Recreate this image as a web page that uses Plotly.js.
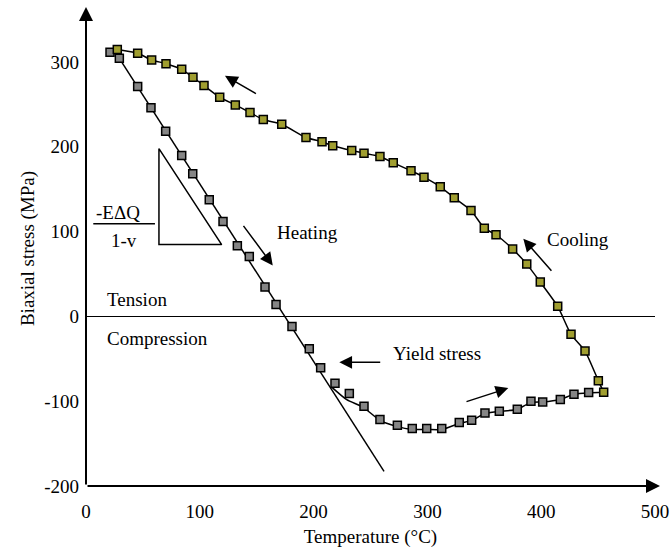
<!DOCTYPE html>
<html>
<head>
<meta charset="utf-8">
<script src="https://cdn.plot.ly/plotly-3.0.1.min.js"></script>
<style>html,body{margin:0;padding:0;background:#fff;}#chart{width:670px;height:550px;}</style>
</head>
<body>
<div id="chart"></div>
<script>
// Heating (grey squares)
const heatT = [21.1,29.3,45.4,57.1,70.0,84.1,93.8,108.3,120.4,133.0,143.5,157.3,167.0,181.0,196.2,206.2,218.8,231.4,244.3,258.3,273.6,286.7,299.4,312.6,328.0,338.9,350.6,363.2,379.0,391.0,401.3,416.8,428.8,441.7];
const heatS = [311.3,304.2,270.9,245.8,218.3,189.6,168.1,137.5,111.9,83.3,70.7,34.5,14.1,-12.1,-38.1,-60.5,-78.9,-91.0,-106.0,-121.7,-128.4,-132.3,-132.3,-132.3,-125.2,-122.5,-113.9,-111.9,-109.5,-100.1,-100.9,-98.1,-91.9,-89.9];
// Cooling (olive squares)
const coolT = [454.9,450.2,438.5,426.2,414.5,399.2,387.3,374.9,360.3,350.0,338.3,323.6,311.3,297.0,285.6,270.0,258.3,244.3,233.5,216.8,207.4,193.3,172.0,155.8,144.1,131.2,117.5,103.7,94.0,84.1,70.3,57.7,45.4,27.5];
const coolS = [-89.6,-75.8,-40.9,-21.2,11.8,40.4,61.6,79.3,96.2,104.0,124.8,139.8,152.7,164.1,171.6,181.0,188.4,192.4,195.5,201.1,205.8,210.8,226.5,232.0,240.3,249.3,258.3,272.1,281.8,291.2,297.9,302.3,310.1,314.5];
// Elastic (thermo-elastic slope) line and plastic heating curve
const elasticT = [29.3,261.9];
const elasticS = [304.2,-182.8];
const plasticT = [215.9,229.1,243.4,258.3,273.0,286.5,299.6,312.8,327.8,339.2,350.6,362.9,378.7,391.0,401.6,416.5,428.8,442.0,454.9];
const plasticS = [-83.4,-98.2,-107.0,-122.6,-129.7,-133.3,-133.3,-133.3,-126.2,-122.6,-114.4,-112.0,-109.7,-101.4,-100.8,-97.9,-92.0,-90.2,-89.6];
// Slope triangle
const triT = [64.1,64.1,119.2,64.1];
const triS = [197.8,84.6,84.6,197.8];
const fracT = [6.4,60.6];
const fracS = [109.3,109.3];
const xTicks = [0,100,200,300,400,500];
const yTicks = [-200,-100,0,100,200,300];

const FONT = 'Liberation Serif';
const FS = 19;
const olive = '#a09e30';
const grey = '#858585';

const traces = [
  {x: elasticT, y: elasticS, mode:'lines', line:{color:'#000', width:1.5}, hoverinfo:'skip'},
  {x: plasticT, y: plasticS, mode:'lines', line:{color:'#000', width:1.5, shape:'spline', smoothing:0.6}, hoverinfo:'skip'},
  {x: coolT, y: coolS, mode:'lines', line:{color:'#000', width:1.5, shape:'spline', smoothing:0.6}, hoverinfo:'skip'},
  {x: triT, y: triS, mode:'lines', line:{color:'#000', width:1.5}, hoverinfo:'skip'},
  {x: fracT, y: fracS, mode:'lines', line:{color:'#000', width:1.5}, hoverinfo:'skip'},
  {x: heatT, y: heatS, mode:'markers', marker:{symbol:'square', size:8, color:grey, line:{color:'#000', width:1.5}}},
  {x: coolT, y: coolS, mode:'markers', marker:{symbol:'square', size:8, color:olive, line:{color:'#000', width:1.5}}}
];

function arrow(x, y, ax, ay){
  return {x:x, y:y, xref:'x', yref:'y', ax:ax, ay:ay, axref:'pixel', ayref:'pixel', text:'', showarrow:true,
          arrowhead:2, arrowsize:1.7, arrowwidth:1.5, arrowcolor:'#000'};
}
function label(text, x, y, anchor){
  return {x:x, y:y, xref:'x', yref:'y', text:text, showarrow:false, xanchor:anchor||'center', yanchor:'middle',
          font:{family:FONT, size:FS, color:'#000'}};
}

const annotations = [
  // axes with arrowheads
  {x:1.0088, y:0, xref:'paper', yref:'paper', ax:-574, ay:0, axref:'pixel', ayref:'pixel', text:'', showarrow:true, arrowhead:2, arrowsize:1.4, arrowwidth:2, arrowcolor:'#000'},
  {x:0, y:1.0084, xref:'paper', yref:'paper', ax:0, ay:479, axref:'pixel', ayref:'pixel', text:'', showarrow:true, arrowhead:2, arrowsize:1.4, arrowwidth:2, arrowcolor:'#000'},
  arrow(122.1, 283.6, 32.5, 18.7),
  arrow(164.1, 60.1, -30.4, -41),
  arrow(384.3, 91.6, 29.4, 33.7),
  arrow(222.6, -54.2, 42.4, 0),
  arrow(371.1, -84.6, -43.3, 14),
  label('Heating', 194.2, 99.1, 'center'),
  label('Cooling', 432.6, 90.4, 'center'),
  label('Tension', 16.7, 20.0, 'left'),
  label('Compression', 16.7, -25.6, 'left'),
  label('Yield stress', 268.0, -43.3, 'left'),
  label('-EΔQ', 28.4, 123.0, 'center'),
  label('1-v', 33.7, 89.6, 'center')
];

const layout = {
  width:670, height:550,
  margin:{l:86, r:15, t:11, b:64},
  paper_bgcolor:'#fff', plot_bgcolor:'#fff',
  showlegend:false,
  font:{family:FONT, size:FS, color:'#000'},
  xaxis:{range:[0,500], tickvals:xTicks, ticktext:xTicks.map(String), showgrid:false, zeroline:false, showline:false,
         ticks:'', ticklabelstandoff:12, tickfont:{family:FONT, size:FS, color:'#000'},
         title:{text:'Temperature (°C)', font:{family:FONT, size:FS, color:'#000'}, standoff:8}, automargin:false},
  yaxis:{range:[-200,360], tickvals:yTicks, ticktext:yTicks.map(String), showgrid:false, zeroline:true, zerolinecolor:'#000', zerolinewidth:1.5,
         showline:false, ticks:'', ticklabelstandoff:6, tickfont:{family:FONT, size:FS, color:'#000'},
         title:{text:'Biaxial stress (MPa)', font:{family:FONT, size:FS, color:'#000'}, standoff:4}, automargin:false},
  annotations:annotations
};

Plotly.newPlot('chart', traces, layout, {staticPlot:true, displayModeBar:false});
</script>
</body>
</html>
